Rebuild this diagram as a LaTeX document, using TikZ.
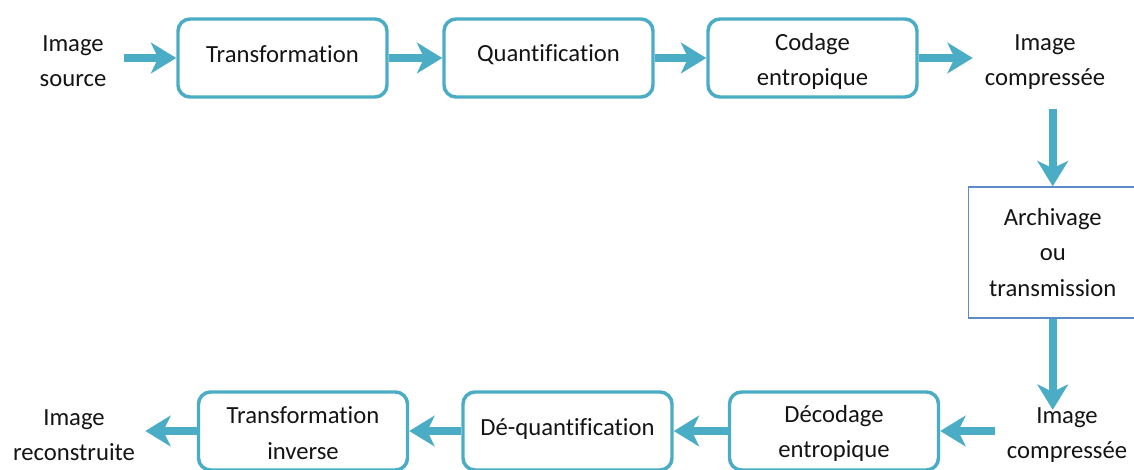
\documentclass[tikz,border=0pt]{standalone}
\usepackage{fontspec}
\setmainfont{Carlito}[Ligatures={NoCommon,NoContextual}]
\usetikzlibrary{arrows.meta}
\definecolor{flow}{RGB}{75,172,198}
\definecolor{archline}{RGB}{91,140,200}
\definecolor{ink}{RGB}{20,20,20}
% two centred lines, moved down inside their box without changing its size
\newcommand{\twolines}[3]{\raisebox{#1}[\height][\depth]{\parbox{150pt}{\centering #2\\#3}}}
\begin{document}
\begin{tikzpicture}[x=0.75pt,y=-0.75pt,
  every node/.style={text=ink,font=\fontsize{18.5}{26.5}\selectfont,inner sep=0pt},
  label/.style={align=center},
  stage/.style={draw=flow,line width=2.6pt,rounded corners=9pt,
    minimum width=156.75pt,minimum height=58.5pt,align=center},
  archbox/.style={draw=archline,line width=1.1pt,
    minimum width=126pt,minimum height=98.25pt,align=center},
  flowarrow/.style={draw=flow,line width=6pt,
    -{Stealth[length=19pt,width=23pt,inset=5.5pt]}}]
\useasboundingbox (0,0) rectangle (1134,469);

% compression chain
\node[label,text width=76.5pt] (src) at (73,61) {Image\\source};
\node[stage] (tr) at (282.5,58) {\raisebox{6.5pt}{Transformation}};
\node[stage] (qu) at (548.5,58) {\raisebox{7pt}{Quantification}};
\node[stage] (co) at (812.5,58) {\twolines{-2.5pt}{Codage}{entropique}};
\node[label,text width=108pt] (cmpA) at (1045,62) {Image\\compressée};

% storage / channel
\node[archbox,anchor=west] (arch) at (968,252.5) {Archivage\\ou\\transmission};

% decompression chain
\node[label,text width=108pt] (cmpB) at (1067,435) {Image\\compressée};
\node[stage] (dec) at (834,431) {\twolines{-2pt}{Décodage}{entropique}};
\node[stage] (deq) at (567.5,431) {\raisebox{6pt}{Dé-quantification}};
\node[stage] (inv) at (303,431) {\twolines{-1.5pt}{Transformation}{inverse}};
\node[label,text width=106.5pt] (rec) at (74,435) {Image\\reconstruite};

% connectors
\draw[flowarrow] (tr.west -| src.east) -- (tr.west);
\draw[flowarrow] (tr.east) -- (qu.west);
\draw[flowarrow] (qu.east) -- (co.west);
\draw[flowarrow] (co.east) -- (co.east -| cmpA.west);
\draw[flowarrow,shorten <=14pt] (arch.north |- cmpA.south) -- (arch.north);
\draw[flowarrow,shorten >=-2pt] (arch.south) -- (arch.south |- cmpB.north);
\draw[flowarrow] (dec.east -| cmpB.west) -- (dec.east);
\draw[flowarrow] (dec.west) -- (deq.east);
\draw[flowarrow] (deq.west) -- (inv.east);
\draw[flowarrow] (inv.west) -- (inv.west -| rec.east);
\end{tikzpicture}
\end{document}
